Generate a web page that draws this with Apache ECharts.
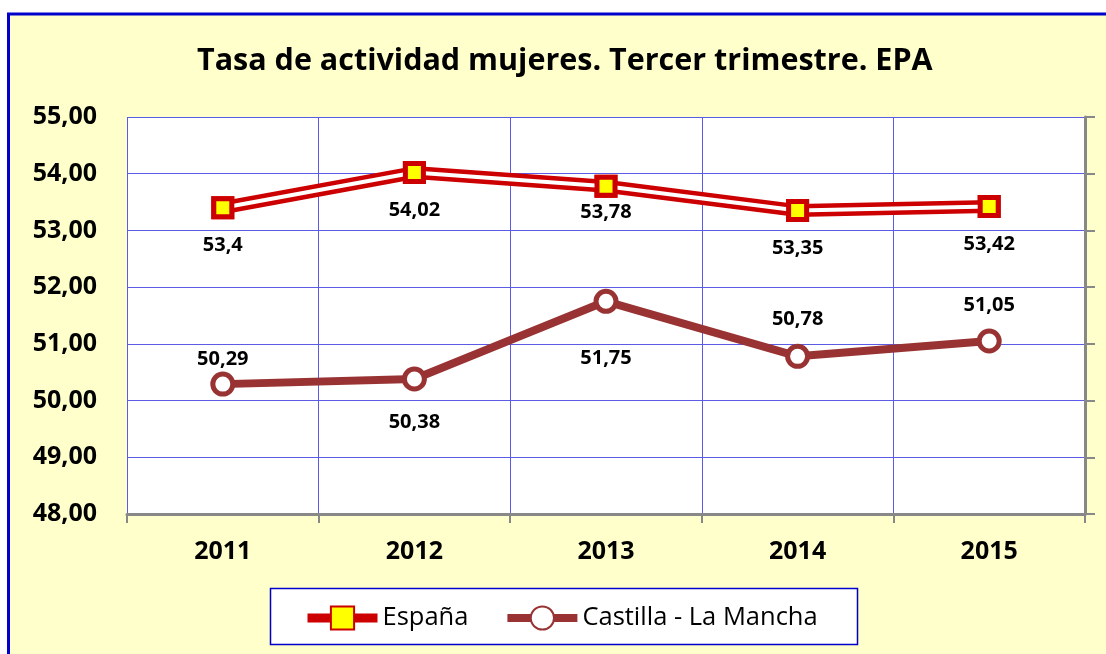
<!DOCTYPE html>
<html>
<head>
<meta charset="utf-8">
<script src="https://cdn.jsdelivr.net/npm/echarts@6/dist/echarts.min.js"></script>
<style>
  html, body { margin: 0; padding: 0; background: #fff; }
  #chart { width: 1106px; height: 654px; }
</style>
</head>
<body>
<div id="chart"></div>
<script>
// datos
var years = ['2011', '2012', '2013', '2014', '2015'];
var espana = [53.4, 54.02, 53.78, 53.35, 53.42];
var castilla = [50.29, 50.38, 51.75, 50.78, 51.05];

// desplazamiento vertical de las etiquetas (px)
var espanaLabelDy = [38, 38, 26, 38, 38];
var castillaLabelDy = [-25, 43, 57, -37, -36];

var font = 'Open Sans';
var chart = echarts.init(document.getElementById('chart'));

function fmt(v) { return String(v).replace('.', ','); }

function withLabels(values, dys) {
  return values.map(function (v, i) {
    return { value: v, label: { offset: [0, dys[i]] } };
  });
}

var labelBase = {
  show: true,
  position: 'inside',
  color: '#000',
  fontFamily: font,
  fontWeight: 'bold',
  fontSize: 20,
  textBorderWidth: 0,
  formatter: function (p) { return fmt(p.value); }
};

var option = {
  backgroundColor: '#fff',
  animation: false,
  graphic: [
    {
      type: 'rect', z: -10, silent: true,
      shape: { x: 8.5, y: 14, width: 1200, height: 700 },
      style: { fill: '#FFFFCC', stroke: '#0000CC', lineWidth: 3 }
    },
    {
      type: 'rect', z: 1, silent: true,
      shape: { x: 270.5, y: 588.5, width: 587, height: 56 },
      style: { fill: '#fff', stroke: '#0000CC', lineWidth: 1.5 }
    }
  ],
  title: {
    text: 'Tasa de actividad mujeres. Tercer trimestre. EPA',
    left: 192,
    top: 41,
    textStyle: { fontFamily: font, fontWeight: 'bold', fontSize: 30.5, color: '#000' }
  },
  legend: {
    data: [
      { name: 'España', lineStyle: { width: 9, color: '#CC0000' } },
      { name: 'Castilla - La Mancha', lineStyle: { width: 8, color: '#993333' } }
    ],
    left: 298,
    top: 600,
    itemWidth: 70,
    itemHeight: 29,
    itemGap: 35,
    textStyle: { fontFamily: font, fontSize: 25.5, color: '#000' }
  },
  grid: {
    left: 127, right: 21, top: 117, bottom: 140,
    show: true, backgroundColor: '#fff', borderWidth: 0
  },
  xAxis: {
    type: 'category',
    data: years,
    boundaryGap: true,
    axisLine: { lineStyle: { color: '#888', width: 3 } },
    axisTick: { show: true, length: 9, lineStyle: { color: '#888', width: 2 } },
    splitLine: { show: true, lineStyle: { color: '#5B5BE6', width: 1 } },
    axisLabel: { margin: 25, color: '#000', fontFamily: font, fontWeight: 'bold', fontSize: 25 }
  },
  yAxis: [
    {
      type: 'value', min: 48, max: 55, interval: 1, position: 'left',
      axisLine: { show: false },
      axisTick: { show: false },
      splitLine: { show: true, lineStyle: { color: '#5B5BE6', width: 1 } },
      axisLabel: {
        margin: 30, color: '#000', fontFamily: font, fontWeight: 'bold', fontSize: 25,
        formatter: function (v) { return v.toFixed(2).replace('.', ','); }
      }
    },
    {
      type: 'value', min: 48, max: 55, interval: 1, position: 'right',
      axisLine: { show: true, lineStyle: { color: '#888', width: 3 } },
      axisTick: { show: true, inside: false, length: 10, lineStyle: { color: '#888', width: 2 } },
      splitLine: { show: false },
      axisLabel: { show: false }
    }
  ],
  series: [
    {
      name: 'España', type: 'line', data: espana, z: 2,
      symbol: 'rect', symbolSize: 18,
      itemStyle: { color: '#FFFF00', borderColor: '#CC0000', borderWidth: 5 },
      lineStyle: { color: '#CC0000', width: 13 }
    },
    {
      name: 'espana-inner', type: 'line', data: espana, z: 3, silent: true,
      symbol: 'none',
      lineStyle: { color: '#fff', width: 4 }
    },
    {
      name: 'espana-marks', type: 'line', data: withLabels(espana, espanaLabelDy), z: 4,
      symbol: 'rect', symbolSize: 18, showSymbol: true,
      itemStyle: { color: '#FFFF00', borderColor: '#CC0000', borderWidth: 5 },
      lineStyle: { opacity: 0 },
      label: labelBase
    },
    {
      name: 'Castilla - La Mancha', type: 'line', data: withLabels(castilla, castillaLabelDy), z: 5,
      symbol: 'circle', symbolSize: 20,
      itemStyle: { color: '#fff', borderColor: '#993333', borderWidth: 5 },
      lineStyle: { color: '#993333', width: 8 },
      label: labelBase
    }
  ]
};

chart.setOption(option);
</script>
</body>
</html>
